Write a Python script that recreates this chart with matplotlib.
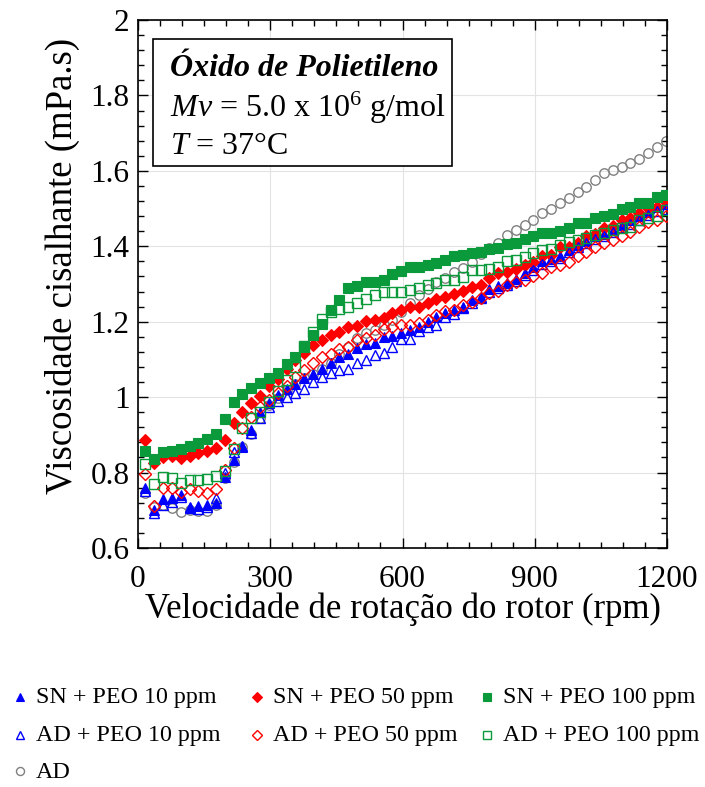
import matplotlib
matplotlib.use("Agg")
import matplotlib.pyplot as plt
from matplotlib.ticker import MultipleLocator
from matplotlib.patches import Rectangle

plt.rcParams['font.family'] = ['Liberation Serif', 'DejaVu Serif']
plt.rcParams['mathtext.fontset'] = 'custom'
plt.rcParams['mathtext.rm'] = 'Liberation Serif'
plt.rcParams['mathtext.it'] = 'Liberation Serif:italic'
plt.rcParams['mathtext.bf'] = 'Liberation Serif:bold'

rpm = list(range(17, 1198, 20))

sn10 = [0.758, 0.700, 0.729, 0.732, 0.741, 0.710, 0.711, 0.714, 0.718, 0.789,
        0.833, 0.869, 0.913, 0.961, 0.984, 1.005, 1.022, 1.035, 1.050, 1.062,
        1.074, 1.091, 1.107, 1.114, 1.130, 1.141, 1.143, 1.159, 1.162, 1.169,
        1.179, 1.187, 1.200, 1.213, 1.222, 1.231, 1.240, 1.258, 1.266, 1.286,
        1.294, 1.302, 1.313, 1.330, 1.345, 1.360, 1.366, 1.374, 1.390, 1.404,
        1.415, 1.428, 1.432, 1.443, 1.457, 1.470, 1.479, 1.492, 1.505, 1.512]
sn50 = [0.886, 0.825, 0.841, 0.844, 0.838, 0.844, 0.853, 0.858, 0.864, 0.886,
        0.931, 0.960, 0.985, 1.003, 1.029, 1.047, 1.075, 1.098, 1.118, 1.138,
        1.152, 1.165, 1.172, 1.185, 1.189, 1.201, 1.204, 1.209, 1.222, 1.232,
        1.240, 1.240, 1.250, 1.261, 1.266, 1.274, 1.282, 1.292, 1.298, 1.315,
        1.329, 1.333, 1.339, 1.351, 1.359, 1.373, 1.377, 1.397, 1.397, 1.410,
        1.426, 1.433, 1.448, 1.454, 1.470, 1.474, 1.488, 1.501, 1.504, 1.518]
sn100 = [0.858, 0.835, 0.854, 0.858, 0.863, 0.871, 0.879, 0.890, 0.902, 0.941,
         0.988, 1.008, 1.024, 1.038, 1.052, 1.065, 1.088, 1.107, 1.132, 1.165,
         1.195, 1.231, 1.258, 1.289, 1.295, 1.304, 1.304, 1.311, 1.326, 1.335,
         1.345, 1.346, 1.351, 1.355, 1.364, 1.373, 1.377, 1.382, 1.386, 1.392,
         1.395, 1.406, 1.408, 1.419, 1.426, 1.436, 1.436, 1.441, 1.448, 1.461,
         1.461, 1.474, 1.480, 1.486, 1.498, 1.505, 1.514, 1.516, 1.530, 1.536]
ad10 = [0.752, 0.694, 0.715, 0.722, 0.735, 0.705, 0.703, 0.708, 0.732, 0.800,
        0.855, 0.870, 0.905, 0.945, 0.975, 0.990, 1.001, 1.012, 1.021, 1.041,
        1.054, 1.063, 1.072, 1.074, 1.091, 1.099, 1.112, 1.117, 1.132, 1.153,
        1.153, 1.176, 1.185, 1.191, 1.212, 1.220, 1.236, 1.250, 1.262, 1.280,
        1.290, 1.298, 1.308, 1.325, 1.338, 1.352, 1.360, 1.370, 1.385, 1.398,
        1.410, 1.420, 1.428, 1.437, 1.450, 1.460, 1.470, 1.482, 1.493, 1.500]
ad50 = [0.797, 0.712, 0.758, 0.758, 0.749, 0.757, 0.750, 0.746, 0.757, 0.807,
        0.864, 0.917, 0.948, 0.975, 0.992, 1.010, 1.030, 1.054, 1.072, 1.090,
        1.106, 1.114, 1.127, 1.134, 1.152, 1.156, 1.165, 1.180, 1.185, 1.191,
        1.191, 1.197, 1.205, 1.218, 1.228, 1.231, 1.244, 1.253, 1.264, 1.275,
        1.282, 1.297, 1.306, 1.311, 1.321, 1.330, 1.344, 1.351, 1.359, 1.373,
        1.384, 1.399, 1.408, 1.417, 1.427, 1.439, 1.452, 1.465, 1.470, 1.479]
ad100 = [0.823, 0.770, 0.789, 0.786, 0.773, 0.780, 0.780, 0.783, 0.791, 0.805,
         0.863, 0.919, 0.944, 0.961, 0.988, 1.015, 1.045, 1.080, 1.135, 1.172,
         1.208, 1.225, 1.235, 1.240, 1.250, 1.260, 1.272, 1.280, 1.280, 1.280,
         1.285, 1.289, 1.297, 1.302, 1.311, 1.311, 1.318, 1.337, 1.337, 1.339,
         1.345, 1.360, 1.364, 1.371, 1.382, 1.390, 1.392, 1.404, 1.412, 1.417,
         1.422, 1.430, 1.435, 1.443, 1.448, 1.452, 1.470, 1.474, 1.479, 1.495]
ad = [0.747, 0.710, 0.714, 0.705, 0.696, 0.701, 0.699, 0.698, 0.714, 0.785,
      0.829, 0.869, 0.902, 0.944, 0.979, 0.997, 1.019, 1.035, 1.050, 1.062,
      1.075, 1.090, 1.115, 1.134, 1.156, 1.169, 1.178, 1.190, 1.205, 1.225,
      1.250, 1.272, 1.286, 1.304, 1.315, 1.333, 1.342, 1.358, 1.380, 1.395,
      1.410, 1.430, 1.443, 1.457, 1.470, 1.488, 1.498, 1.516, 1.527, 1.543,
      1.558, 1.576, 1.594, 1.602, 1.611, 1.620, 1.631, 1.647, 1.664, 1.680]

labels = ['SN + PEO 10 ppm', 'SN + PEO 50 ppm', 'SN + PEO 100 ppm',
          'AD + PEO 10 ppm', 'AD + PEO 50 ppm', 'AD + PEO 100 ppm', 'AD']

BLUE = '#0000ff'
RED = '#ff0000'
GREEN = '#0a9a3c'
GRAY = '#808080'

W, H = 705, 787
fig = plt.figure(figsize=(W/100, H/100), dpi=100)
ax = fig.add_axes([138/W, 1-548/H, 529/W, 528/H])

ms = 6.8
styles = {
    'SN10': dict(marker='^', ms=ms, mfc=BLUE, mec=BLUE, mew=0.8, zorder=3),
    'SN50': dict(marker='D', ms=ms-0.9, mfc=RED, mec=RED, mew=0.8, zorder=3),
    'SN100': dict(marker='s', ms=ms, mfc=GREEN, mec=GREEN, mew=0.8, zorder=3),
    'AD10': dict(marker='^', ms=ms, mfc='none', mec=BLUE, mew=1.0, zorder=4),
    'AD50': dict(marker='D', ms=ms-0.9, mfc='none', mec=RED, mew=1.0, zorder=4),
    'AD100': dict(marker='s', ms=ms, mfc='none', mec=GREEN, mew=1.0, zorder=4),
    'AD': dict(marker='o', ms=ms, mfc='none', mec=GRAY, mew=1.0, zorder=2),
}
series = {'SN10': sn10, 'SN50': sn50, 'SN100': sn100,
          'AD10': ad10, 'AD50': ad50, 'AD100': ad100, 'AD': ad}
for k, v in series.items():
    ax.plot(rpm, v, ls='none', **styles[k])

ax.set_xlim(0, 1200)
ax.set_ylim(0.6, 2.0)
ax.xaxis.set_major_locator(MultipleLocator(300))
ax.xaxis.set_minor_locator(MultipleLocator(50))
ax.yaxis.set_minor_locator(MultipleLocator(0.04))
ax.set_yticks([0.6, 0.8, 1.0, 1.2, 1.4, 1.6, 1.8, 2.0])
ax.set_yticklabels(['0.6', '0.8', '1', '1.2', '1.4', '1.6', '1.8', '2'])
ax.tick_params(which='both', direction='in', top=True, right=True, width=1.0)
ax.tick_params(which='major', length=7, labelsize=22.5)
ax.tick_params(axis='x', which='major', pad=12)
ax.tick_params(axis='y', which='major', pad=6)
ax.tick_params(which='minor', length=4)
ax.grid(True, which='major', color='#e3e3e3', lw=0.8)
ax.set_axisbelow(True)
for s in ax.spines.values():
    s.set_linewidth(1.2)

ax.set_xlabel('Velocidade de rotação do rotor (rpm)', fontsize=25)
ax.set_ylabel('Viscosidade cisalhante (mPa.s)', fontsize=26.5)
ax.xaxis.label.set_va('center')
ax.yaxis.label.set_va('center')
ax.xaxis.set_label_coords(0.5, (548-609)/528)
ax.yaxis.set_label_coords((62-138)/529, (548-266)/528)

# annotation box
ax.add_patch(Rectangle((15/529, (548-166)/528), 299/529, 127/528,
                       transform=ax.transAxes, fill=True, fc='white',
                       ec='black', lw=1.2, zorder=5))
ax.text(32/529, (548-68)/528, 'Óxido de Polietileno', transform=ax.transAxes,
        fontsize=23, fontweight='bold', fontstyle='italic', va='center', ha='left', zorder=6)
ax.text(32/529, (548-108)/528, r'$\mathit{Mv}$ = 5.0 x 10$^{6}$ g/mol', transform=ax.transAxes,
        fontsize=23, va='center', ha='left', zorder=6)
ax.text(32/529, (548-146)/528, r'$\mathit{T}$ = 37°C', transform=ax.transAxes,
        fontsize=23, va='center', ha='left', zorder=6)

# legend laid out below the axes (pixel coordinates of the figure)
lax = fig.add_axes([0, 0, 1, 1], zorder=-1)
lax.set_xlim(0, W)
lax.set_ylim(H, 0)
lax.axis('off')
legend_pos = {'SN10': (20, 697), 'SN50': (257, 697), 'SN100': (487, 697),
              'AD10': (20, 735), 'AD50': (257, 735), 'AD100': (487, 735),
              'AD': (20, 771)}
legend_text = dict(zip(['SN10', 'SN50', 'SN100', 'AD10', 'AD50', 'AD100', 'AD'], labels))
for k, (x, y) in legend_pos.items():
    st = dict(styles[k])
    st['ms'] = st['ms'] * 0.85
    st.pop('zorder')
    lax.plot([x], [y], ls='none', **st)
    lax.text(x + 16, y + 1, legend_text[k], fontsize=17.3, va='center', ha='left')

fig.savefig('out.png', dpi=100)
